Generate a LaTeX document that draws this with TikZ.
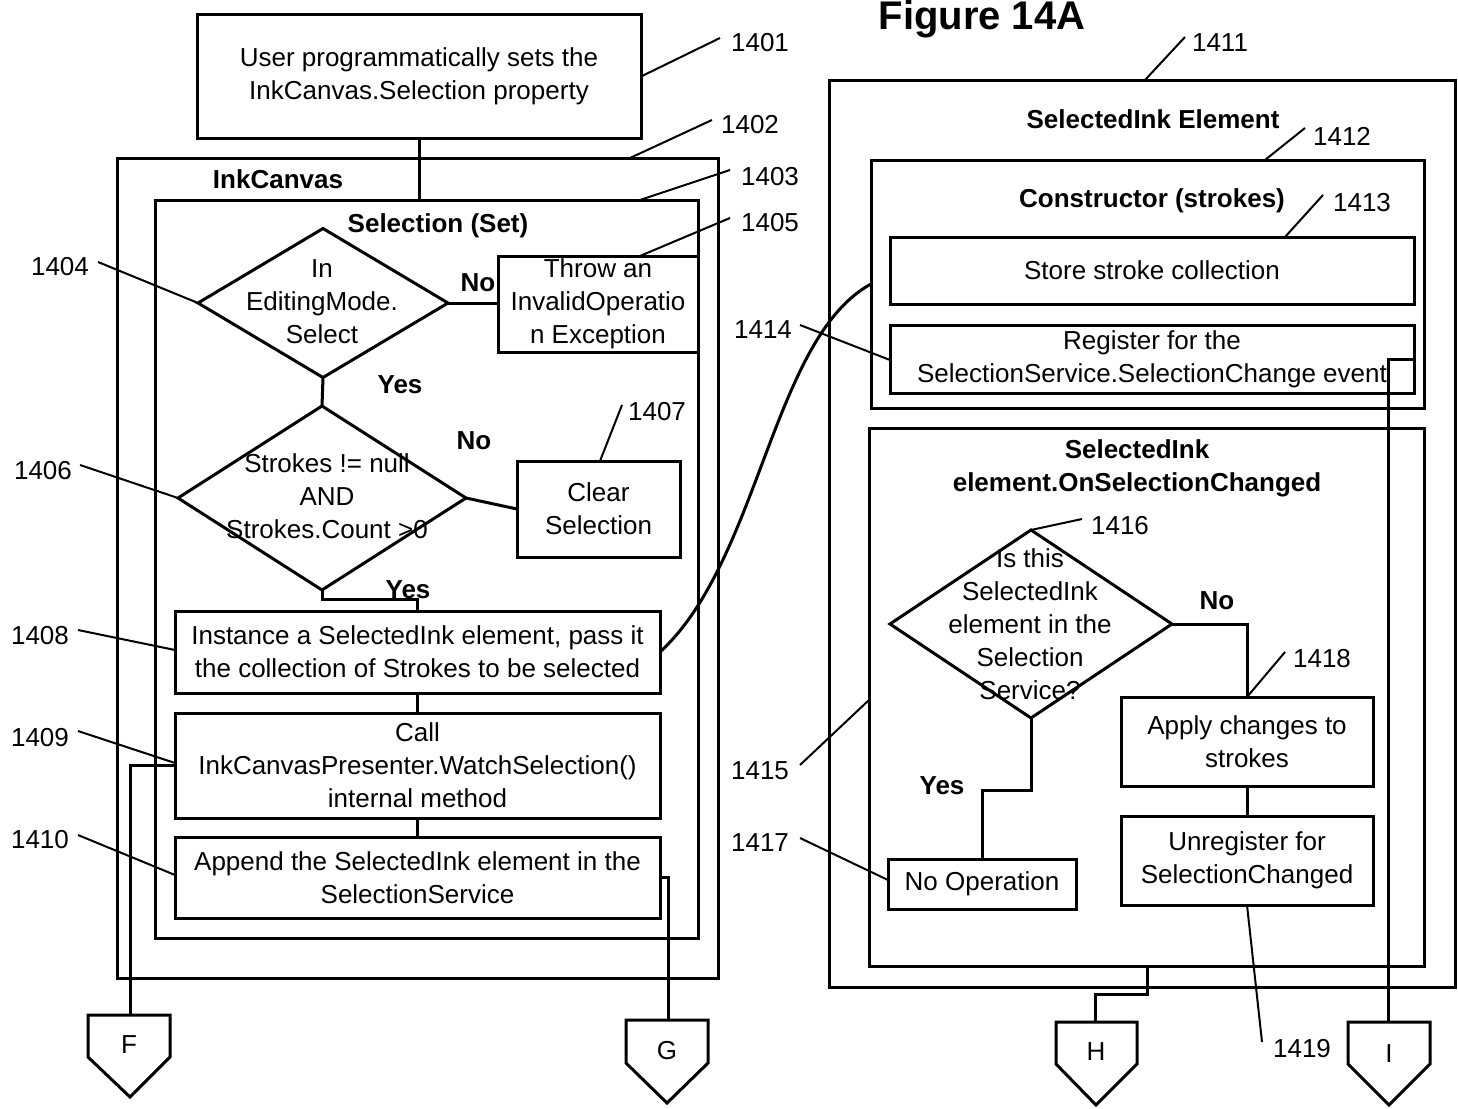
\documentclass[tikz,border=0pt]{standalone}
\usepackage{fontspec}
\setmainfont{Liberation Sans}
\usetikzlibrary{shapes.geometric,calc}
\begin{document}
\begin{tikzpicture}[x=1pt,y=-1pt,
  every node/.style={inner sep=0pt,outer sep=0pt},
  txt/.style={font=\fontsize{26}{33}\selectfont,align=center},
  bold/.style={font=\fontsize{26}{33}\selectfont\bfseries,align=center},
  box/.style={draw,line width=3pt,rectangle,txt},
  frame/.style={draw,line width=3pt,rectangle},
  dia/.style={draw,line width=3pt,diamond},
  flow/.style={line width=3pt},
  leader/.style={line width=2pt},
  conn/.style={line width=3pt,line join=miter}]
\useasboundingbox (0,0) rectangle (1458,1108);

% title
\node[font=\fontsize{40}{44}\selectfont\bfseries,anchor=base] (title) at (982,30) {Figure 14A};

% ---------------- left column: InkCanvas ----------------
\node[box,minimum width=444pt,minimum height=123pt] (b1401) at (419,76.5)
  {User programmatically sets the\\InkCanvas.Selection property};
\node[frame,minimum width=601pt,minimum height=820pt] (f1402) at (417.5,568) {};
\node[bold] (tInk) at (278,179) {InkCanvas};
\node[frame,minimum width=543pt,minimum height=738pt] (f1403) at (426.5,569) {};
\node[bold] (tSel) at (438,226) {Selection (Set)};

\node[dia,minimum width=250pt,minimum height=149pt] (d1404) at (323,303) {};
\node[txt] (t1404) at (322,302) {In\\EditingMode.\\Select};
\node[box,minimum width=200pt,minimum height=96pt] (b1405) at (598,304)
  {Throw an\\InvalidOperatio\\n Exception};
\node[bold] (no1) at (478,283) {No};
\node[bold] (yes1) at (400,385) {Yes};

\node[dia,minimum width=288pt,minimum height=184pt] (d1406) at (322,498) {};
\node[txt] (t1406) at (327,496) {Strokes != null\\AND\\Strokes.Count >0};
\node[box,minimum width=163pt,minimum height=96pt] (b1407) at (598.5,509)
  {Clear\\Selection};
\node[bold] (no2) at (474,441) {No};
\node[bold] (yes2) at (408,590) {Yes};

\node[box,minimum width=485pt,minimum height=82pt] (b1408) at (417.5,652)
  {Instance a SelectedInk element, pass it\\the collection of Strokes to be selected};
\node[box,minimum width=485pt,minimum height=105pt] (b1409) at (417.5,765.5)
  {Call\\InkCanvasPresenter.WatchSelection()\\internal method};
\node[box,minimum width=485pt,minimum height=81pt] (b1410) at (417.5,877.5)
  {Append the SelectedInk element in the\\SelectionService};

% ---------------- right column: SelectedInk element ----------------
\node[frame,minimum width=626pt,minimum height=907pt] (f1411) at (1142,533.5) {};
\node[bold] (tSI) at (1153,119) {SelectedInk Element};
\node[frame,minimum width=553pt,minimum height=248pt] (f1412) at (1147.5,284) {};
\node[bold] (tCon) at (1152,201) {Constructor (strokes)};
\node[box,minimum width=524pt,minimum height=67pt] (b1413) at (1152,270.5)
  {Store stroke collection};
\node[box,minimum width=524pt,minimum height=68pt] (b1414) at (1152,359)
  {Register for the\\SelectionService.SelectionChange event};

\node[frame,minimum width=555pt,minimum height=538pt] (f1415) at (1146.5,697) {};
\node[bold] (tOSC) at (1137,468.5) {SelectedInk\\element.OnSelectionChanged};
\node[dia,minimum width=282pt,minimum height=188pt] (d1416) at (1031,624) {};
\node[txt] (t1416) at (1030,624)
  {Is this\\SelectedInk\\element in the\\Selection\\Service?};
\node[bold] (no3) at (1217,601) {No};
\node[bold] (yes3) at (942,786) {Yes};
\node[box,minimum width=188pt,minimum height=50pt] (b1417) at (982,884) {No Operation};
\node[box,minimum width=252pt,minimum height=89pt] (b1418) at (1247,741.5)
  {Apply changes to\\strokes};
\node[box,minimum width=252pt,minimum height=89pt] (b1419) at (1247,860.5)
  {Unregister for\\SelectionChanged};

% ---------------- off-page connectors ----------------
\draw[conn] (88,1015) -- (170,1015) -- (170,1057) -- (130,1097) -- (88,1057) -- cycle;
\coordinate (cF) at (130,1015);
\node[txt] (lF) at (129,1045) {F};
\draw[conn] (626,1020) -- (708,1020) -- (708,1063) -- (667,1103) -- (626,1063) -- cycle;
\coordinate (cG) at (668,1020);
\node[txt] (lG) at (667,1051) {G};
\draw[conn] (1056,1022) -- (1137,1022) -- (1137,1064) -- (1096,1105) -- (1056,1064) -- cycle;
\coordinate (cH) at (1095,1022);
\node[txt] (lH) at (1096,1052) {H};
\draw[conn] (1348,1022) -- (1430,1022) -- (1430,1064) -- (1389,1105) -- (1348,1064) -- cycle;
\coordinate (cI) at (1388,1022);
\node[txt] (lI) at (1389,1054) {I};

% ---------------- flow lines ----------------
\draw[flow] (b1401.south) -- (b1401.south |- f1403.north);
\draw[flow] (d1404.east) -- (d1404.east -| b1405.west);
\draw[flow] (d1404.south) -- (d1406.north);
\draw[flow] (d1406.east) -- (b1407.west);
\draw[conn] (d1406.south) -- ++(0,9) -| (b1408.north);
\draw[flow] (b1408.south) -- (b1409.north);
\draw[flow] (b1409.south) -- (b1410.north);
\draw[conn] (b1409.west) -| (cF);
\draw[conn] (b1410.east) -| (cG);
\draw[flow] (b1408.east) .. controls (760,560) and (772,338) .. (f1412.west);
\draw[conn] (b1414.east) -- (b1414.east -| cI) -- (cI);
\draw[conn] (d1416.east) -| (b1418.north);
\draw[flow] (b1418.south) -- (b1419.north);
\draw[conn] (d1416.south) -- ++(0,72) -| (b1417.north);
\coordinate (hs) at (1147,966);
\draw[conn] (hs) -- ++(0,28) -| (cH);

% ---------------- reference numerals ----------------
\begin{scope}[every node/.style={txt}]
\node (n1401) at (760,43) {1401};
\node (n1402) at (750,125) {1402};
\node (n1403) at (770,177) {1403};
\node (n1405) at (770,223) {1405};
\node (n1404) at (60,267) {1404};
\node (n1406) at (43,471) {1406};
\node (n1407) at (657,412) {1407};
\node (n1408) at (40,636) {1408};
\node (n1409) at (40,738) {1409};
\node (n1410) at (40,840) {1410};
\node (n1411) at (1220,43) {1411};
\node (n1412) at (1342,136) {1412};
\node (n1413) at (1362,203) {1413};
\node (n1414) at (763,330) {1414};
\node (n1415) at (760,771) {1415};
\node (n1416) at (1120,526) {1416};
\node (n1417) at (760,843) {1417};
\node (n1418) at (1322,659) {1418};
\node (n1419) at (1302,1049) {1419};
\end{scope}

% leader ends next to the numerals
\coordinate (e1401) at (720,38);
\coordinate (e1402) at (712,120);
\coordinate (e1403) at (730,170);
\coordinate (e1405) at (730,218);
\coordinate (e1404) at (98,262);
\coordinate (e1406) at (80,465);
\coordinate (e1407) at (622,405);
\coordinate (e1408) at (78,630);
\coordinate (e1409) at (78,731);
\coordinate (e1410) at (78,835);
\coordinate (e1411) at (1185,37);
\coordinate (e1412) at (1305,128);
\coordinate (e1413) at (1323,195);
\coordinate (e1414) at (800,325);
\coordinate (e1415) at (800,765);
\coordinate (e1416) at (1082,519);
\coordinate (e1417) at (800,838);
\coordinate (e1418) at (1285,652);
\coordinate (e1419) at (1262,1042);

\draw[leader] (b1401.east) -- (e1401);
\draw[leader] (f1402.north -| 630,0) -- (e1402);
\draw[leader] (f1403.north -| 640,0) -- (e1403);
\draw[leader] (b1405.north -| 640,0) -- (e1405);
\draw[leader] (d1404.west) -- (e1404);
\draw[leader] (d1406.west) -- (e1406);
\draw[leader] (b1407.north -| 600,0) -- (e1407);
\draw[leader] (b1408.west |- 0,650) -- (e1408);
\draw[leader] (b1409.west |- 0,763) -- (e1409);
\draw[leader] (b1410.west |- 0,875) -- (e1410);
\draw[leader] (f1411.north -| 1145,0) -- (e1411);
\draw[leader] (f1412.north -| 1265,0) -- (e1412);
\draw[leader] (b1413.north -| 1285,0) -- (e1413);
\draw[leader] (b1414.west |- 0,360) -- (e1414);
\draw[leader] (f1415.west |- 0,700) -- (e1415);
\draw[leader] (d1416.north) -- (e1416);
\draw[leader] (b1417.west |- 0,880) -- (e1417);
\draw[leader] (b1418.north) -- (e1418);
\draw[leader] (b1419.south) -- (e1419);
\end{tikzpicture}
\end{document}
